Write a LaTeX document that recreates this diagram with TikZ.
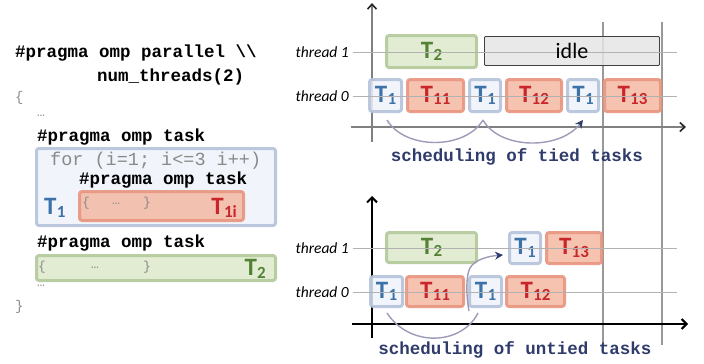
\documentclass[tikz,border=0pt]{standalone}
\usepackage{fontspec}
\setmainfont{Carlito}
\newfontfamily\codefont{Liberation Mono}
\usetikzlibrary{arrows.meta}
\definecolor{tfill}{HTML}{EEF3FA}
\definecolor{tbord}{HTML}{B5C2DA}
\definecolor{tblue}{HTML}{3D72A8}
\definecolor{rfill}{HTML}{F4B8A3}
\definecolor{rbord}{HTML}{E8957F}
\definecolor{rred}{HTML}{C8262A}
\definecolor{gfill}{HTML}{DDE9CA}
\definecolor{gbord}{HTML}{B3C99A}
\definecolor{ggreen}{HTML}{548235}
\definecolor{navy}{HTML}{2F3B6B}
\definecolor{curvec}{HTML}{9C9BB8}
\definecolor{codegray}{HTML}{8A8A8A}
\newcommand\bx[7]{\node[#2, minimum width={(#5-#3-3)*1pt}, minimum height={(#6-#4-3)*1pt}] (#1) at ({(#3+#5)/2},{(#4+#6)/2}) {#7};}
\newcommand\tl[1]{{\bfseries\fontsize{25}{25}\selectfont T\kern0.3pt\raisebox{-2.5pt}{\fontsize{17}{17}\selectfont #1}}}
\tikzset{
  boxbase/.style={line width=3pt, rounded corners=2.5pt, inner sep=0pt, fill opacity=0.85, draw opacity=0.9, text opacity=1},
  tbox/.style={boxbase, draw=tbord, fill=tfill, text=tblue},
  rbox/.style={boxbase, draw=rbord, fill=rfill, text=rred},
  gbox/.style={boxbase, draw=gbord, fill=gfill, text=ggreen},
  idlebox/.style={draw=black!75, line width=0.8pt, fill=black!10, fill opacity=0.85, text opacity=1, inner sep=0pt, rounded corners=1pt},
  codeb/.style={font=\codefont\bfseries\fontsize{17.5}{18}\selectfont, anchor=west, inner sep=0pt},
  coder/.style={font=\codefont\fontsize{18.5}{20}\selectfont, text=codegray, anchor=west, inner sep=0pt},
  codes/.style={font=\codefont\fontsize{13}{14}\selectfont, text=codegray, inner sep=0pt},
  thlabel/.style={font=\itshape\fontsize{15.5}{16}\selectfont, anchor=east, inner sep=0pt},
  thline/.style={draw=black!30, line width=0.8pt},
  caption/.style={font=\codefont\bfseries\fontsize{17.5}{18}\selectfont, text=navy, inner sep=0pt},
  vline/.style={draw=black!40, line width=1.8pt},
  sched/.style={draw=curvec, line width=1.4pt},
}
\begin{document}
\begin{tikzpicture}[x=1pt,y=-1pt]
\useasboundingbox (0,0) rectangle (704,364);
% ---------------- code -----------------
\node[codeb] (c1) at (15,53) {\#pragma omp parallel \textbackslash\textbackslash};
\node[codeb] (c2) at (97,77) {num\_threads(2)};
\node[coder, font=\codefont\fontsize{14}{14}\selectfont] (c3) at (15,98) {\{};
\node[codes, anchor=west] (c4) at (37,116) {…};
\node[codeb] (c5) at (37,137) {\#pragma omp task};
\bx{cb1}{tbox}{35}{147}{277}{227}{}
\node[coder] (c6) at (50,161) {for (i=1; i<=3 i++)};
\node[codeb] (c7) at (79,180) {\#pragma omp task};
\bx{cb2}{rbox}{78}{190}{245}{222}{}
\node[codes] (c8) at (86,203) {\{};
\node[codes] (c9) at (116,204) {…};
\node[codes] (c10) at (147,203) {\}};
\node[text=rred, anchor=east, inner sep=0pt] (t1i) at (237,208) {\tl{1i}};
\node[text=tblue, anchor=west, inner sep=0pt] (t1c) at (44,208) {\tl{1}};
\node[codeb] (c11) at (37,243) {\#pragma omp task};
\bx{cb3}{gbox}{35}{254}{277}{282}{}
\node[codes] (c12) at (42,267) {\{};
\node[codes] (c13) at (95,268) {…};
\node[codes] (c14) at (147,267) {\}};
\node[text=ggreen, anchor=east, inner sep=0pt] (t2c) at (266,269) {\tl{2}};
\node[codes, anchor=west] (c15) at (37,286) {…};
\node[coder, font=\codefont\fontsize{14}{14}\selectfont] (c16) at (15,307) {\}};
% ---------------- vertical markers -----------------
\coordinate (va1) at (603,22); \coordinate (va2) at (603,345);
\coordinate (vb1) at (662,22); \coordinate (vb2) at (662,345);
\draw[vline] (va1) -- (va2);
\draw[vline] (vb1) -- (vb2);
% ---------------- top chart -----------------
\coordinate (ty0) at (372,142); \coordinate (ty1) at (372,3);
\coordinate (tx0) at (351,127); \coordinate (tx1) at (686,127);
\draw[draw=black!50, line width=1.2pt, -{Straight Barb[length=5pt,width=9pt,line width=1.6pt,color=black!85]}] (ty0) -- (ty1);
\draw[draw=black!50, line width=1.2pt, -{Straight Barb[length=5pt,width=9pt,line width=1.6pt,color=black!85]}] (tx0) -- (tx1);
\bx{a2}{gbox}{385}{34}{478}{69}{\tl{2}}
\bx{aidle}{idlebox}{483}{35}{661}{67}{}
\bx{a1a}{tbox}{368}{78}{403}{113}{\tl{1}}
\bx{a11}{rbox}{406}{78}{465}{113}{\tl{11}}
\bx{a1b}{tbox}{468}{78}{502}{113}{\tl{1}}
\bx{a12}{rbox}{505}{78}{563}{113}{\tl{12}}
\bx{a1c}{tbox}{566}{78}{600}{113}{\tl{1}}
\bx{a13}{rbox}{603}{78}{662}{113}{\tl{13}}
\coordinate (tl1a) at (353,52); \coordinate (tl1b) at (677,52);
\coordinate (tl0a) at (353,96); \coordinate (tl0b) at (677,96);
\draw[thline] (tl1a) -- (tl1b);
\draw[thline] (tl0a) -- (tl0b);
\node[font=\fontsize{22}{22}\selectfont] (idletxt) at (572,51) {idle};
\node[thlabel] (th1a) at (349,52) {thread 1};
\node[thlabel] (th0a) at (349,96) {thread 0};
\coordinate (ar1) at (387,120); \coordinate (ar2) at (483,120); \coordinate (ar3) at (583,120);
\draw[sched] (ar1) .. controls (405,150) and (465,150) .. (ar2);
\draw[sched, -{Stealth[length=8pt,width=8pt,color=navy]}] (ar2) .. controls (500,150) and (560,150) .. (ar3);
\node[caption] (cap1) at (517,157) {scheduling of tied tasks};
% ---------------- bottom chart -----------------
\coordinate (by0) at (372,338); \coordinate (by1) at (372,196);
\coordinate (bx0) at (352,324); \coordinate (bx1) at (688,324);
\draw[line width=2.4pt, -{Straight Barb[length=5pt,width=10pt,line width=2pt]}] (by0) -- (by1);
\draw[line width=2.4pt, -{Straight Barb[length=5pt,width=10pt,line width=2pt]}] (bx0) -- (bx1);
\bx{b2}{gbox}{385}{231}{478}{264}{\tl{2}}
\bx{b1c}{tbox}{508}{231}{542}{265}{\tl{1}}
\bx{b13}{rbox}{545}{231}{603}{265}{\tl{13}}
\bx{b1a}{tbox}{369}{275}{404}{308}{\tl{1}}
\bx{b11}{rbox}{405}{275}{465}{308}{\tl{11}}
\bx{b1b}{tbox}{468}{275}{503}{308}{\tl{1}}
\bx{b12}{rbox}{505}{275}{566}{308}{\tl{12}}
\coordinate (bl1a) at (353,248); \coordinate (bl1b) at (677,248);
\coordinate (bl0a) at (353,292); \coordinate (bl0b) at (677,292);
\draw[thline] (bl1a) -- (bl1b);
\draw[thline] (bl0a) -- (bl0b);
\node[thlabel] (th1b) at (349,248) {thread 1};
\node[thlabel] (th0b) at (349,292) {thread 0};
\coordinate (br1) at (387,313); \coordinate (br2) at (478,313); \coordinate (br3) at (503,255);
\draw[sched] (br1) .. controls (410,348) and (462,345) .. (br2);
\draw[sched, -{Stealth[length=8pt,width=8pt,color=navy]}] (469,311) .. controls (466,295) and (466,275) .. (470,268) .. controls (475,259) and (490,256) .. (br3);
\node[caption] (cap2) at (515,350) {scheduling of untied tasks};
\end{tikzpicture}
\end{document}
